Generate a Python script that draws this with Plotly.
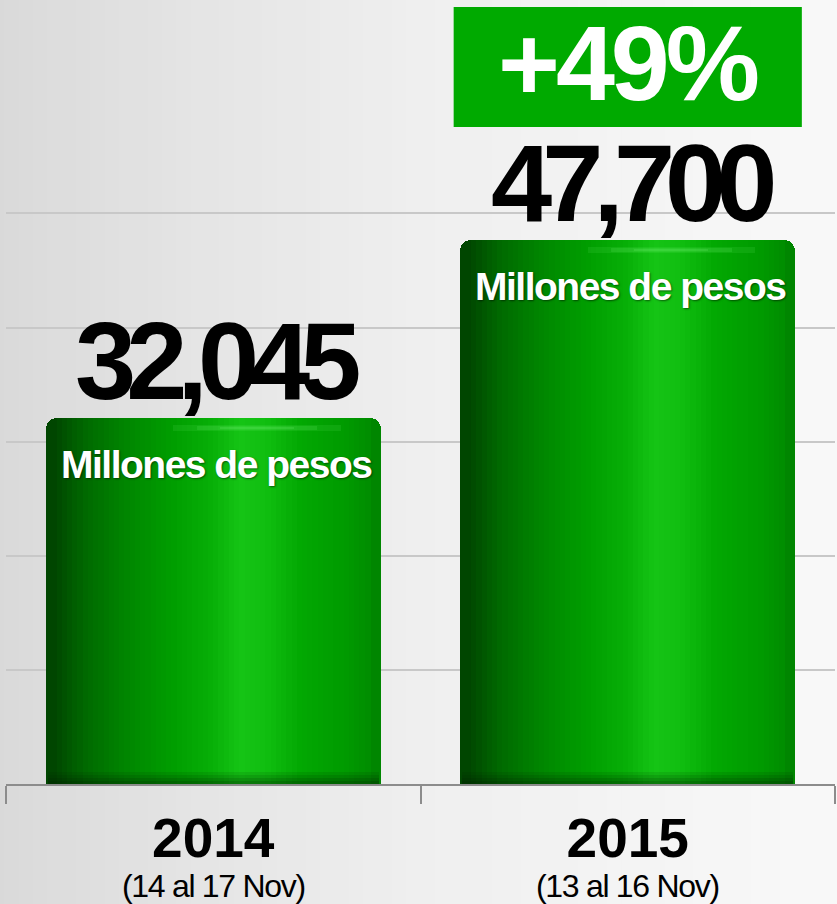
import plotly.graph_objects as go

# data
years = ["2014", "2015"]
periods = ["(14 al 17 Nov)", "(13 al 16 Nov)"]
amounts = [32045, 47700]
unit_label = "Millones de pesos"
growth_label = "+49%"
grid_values = [10000, 20000, 30000, 40000, 50000]

FONT = "Liberation Sans, Arial, sans-serif"
Y_MAX = 68700
PX = Y_MAX / 784  # value units per pixel in the plot area

# horizontal shading of the cylinder bars (position across bar, colour)
bar_stops = [
    (0.00, (0x00, 0x46, 0x00)),
    (0.04, (0x00, 0x4c, 0x00)),
    (0.12, (0x00, 0x6a, 0x00)),
    (0.25, (0x00, 0x88, 0x00)),
    (0.38, (0x00, 0x9e, 0x00)),
    (0.50, (0x08, 0xb0, 0x08)),
    (0.58, (0x15, 0xc4, 0x15)),
    (0.66, (0x10, 0xbe, 0x10)),
    (0.76, (0x02, 0xa8, 0x02)),
    (0.90, (0x00, 0x9a, 0x00)),
    (1.00, (0x00, 0x86, 0x00)),
]

def lerp_color(stops, t):
    for (t0, c0), (t1, c1) in zip(stops[:-1], stops[1:]):
        if t0 <= t <= t1:
            f = (t - t0) / (t1 - t0) if t1 > t0 else 0
            r, g, b = (round(a + (b_ - a) * f) for a, b_ in zip(c0, c1))
            return f"rgb({r},{g},{b})"
    r, g, b = stops[-1][1]
    return f"rgb({r},{g},{b})"

fig = go.Figure()

bar_w = 0.808
inset = 0.026
n_strips = 60

# rounded base bars: right half edge colour, left half dark edge colour
fig.add_trace(go.Bar(
    x=years, y=amounts, width=bar_w,
    marker=dict(color=lerp_color(bar_stops, 1.0), cornerradius=11, line=dict(width=0)),
    hoverinfo="skip", showlegend=False,
))
fig.add_trace(go.Bar(
    x=years, y=amounts, width=bar_w / 2, offset=-bar_w / 2,
    marker=dict(color=lerp_color(bar_stops, 0.0), cornerradius=11, line=dict(width=0)),
    hoverinfo="skip", showlegend=False,
))

# shading strips laid over the base bars
inner = bar_w - 2 * inset
sw = inner / n_strips
for i in range(n_strips):
    t = (inset + (i + 0.5) * sw) / bar_w
    fig.add_trace(go.Bar(
        x=years, y=amounts,
        width=sw * 1.2, offset=-bar_w / 2 + inset + i * sw,
        marker=dict(color=lerp_color(bar_stops, t), line=dict(width=0)),
        hoverinfo="skip", showlegend=False,
    ))

# darker rim at the bottom of each cylinder
for k, alpha in enumerate([0.10, 0.12, 0.14, 0.16]):
    fig.add_trace(go.Bar(
        x=years, y=[(12 - 3 * k) * PX] * len(years), base=[0] * len(years),
        width=bar_w - 0.01,
        marker=dict(color=f"rgba(0,30,0,{alpha})", line=dict(width=0)),
        hoverinfo="skip", showlegend=False,
    ))

# soft highlight near the top rim
for k, (frac, alpha) in enumerate([(0.50, 0.10), (0.36, 0.12), (0.22, 0.14)]):
    fig.add_trace(go.Bar(
        x=years, y=[(6 - 2 * k) * PX] * len(years),
        base=[v - (13 - k) * PX for v in amounts],
        width=bar_w * frac, offset=bar_w * (0.13 - frac / 2),
        marker=dict(color=f"rgba(140,255,140,{alpha})", line=dict(width=0)),
        hoverinfo="skip", showlegend=False,
    ))

# background gradient (left darker grey -> right near white)
bg_stops = [(0.0, (0xd9, 0xd9, 0xd9)), (0.25, (0xe5, 0xe5, 0xe5)),
            (0.5, (0xef, 0xef, 0xef)), (1.0, (0xf9, 0xf9, 0xf9))]
shapes = []
n_bg = 60
for i in range(n_bg):
    x0 = -0.02 + i * 1.04 / n_bg
    x1 = x0 + 1.04 / n_bg + 0.002
    shapes.append(dict(type="rect", xref="paper", yref="paper",
                       x0=x0, x1=x1, y0=-0.2, y1=1.01, layer="below",
                       line=dict(width=0),
                       fillcolor=lerp_color(bg_stops, (i + 0.5) / n_bg)))

# green growth box above the 2015 bar
shapes.append(dict(type="rect", xref="x", yref="paper",
                   x0=1 - 0.42, x1=1 + 0.42, y0=0.838, y1=0.991,
                   fillcolor="#00aa00", line=dict(width=0), layer="above"))

annotations = []
for i, (yr, v) in enumerate(zip(years, amounts)):
    annotations.append(dict(
        x=i, y=v, xref="x", yref="y", yanchor="bottom", yshift=-6, xshift=4,
        text=f"<span style='letter-spacing:-10px'>{v:,}</span>",
        showarrow=False,
        font=dict(family=FONT, size=110, color="#000000", weight="bold"),
    ))
    annotations.append(dict(
        x=i, y=v, xref="x", yref="y", yanchor="top", yshift=-23, xshift=3,
        text=f"<span style='letter-spacing:-1.5px'>{unit_label}</span>",
        showarrow=False,
        font=dict(family=FONT, size=39, color="#ffffff", weight="bold",
                  shadow="1px 1px 2px rgba(0,0,0,0.5)"),
    ))
    annotations.append(dict(
        x=i, y=-0.13, xref="x", yref="paper", yanchor="middle",
        text=f"<span style='letter-spacing:-1.3px'>{periods[i]}</span>",
        showarrow=False,
        font=dict(family=FONT, size=32, color="#000000"),
    ))

annotations.append(dict(
    x=1, y=0.914, xref="x", yref="paper", yanchor="middle", yshift=4,
    text=f"<span style='letter-spacing:-4px'>{growth_label}</span>",
    showarrow=False,
    font=dict(family=FONT, size=106, color="#ffffff", weight="bold"),
))

fig.update_layout(
    width=837, height=904,
    margin=dict(l=6, r=2, t=0, b=120),
    paper_bgcolor="#f2f2f2",
    plot_bgcolor="rgba(0,0,0,0)",
    barmode="overlay",
    bargap=0,
    shapes=shapes,
    annotations=annotations,
    showlegend=False,
    xaxis=dict(
        type="category", tickson="boundaries", range=[-0.5, 1.5],
        categoryorder="array", categoryarray=years,
        ticks="outside", ticklen=18, tickwidth=2, tickcolor="#8c8c8c",
        showline=True, linecolor="#8c8c8c", linewidth=2,
        showgrid=False,
        tickfont=dict(family=FONT, size=55, color="#000000", weight="bold"),
        tickangle=0, ticklabelstandoff=5,
    ),
    yaxis=dict(
        range=[0, Y_MAX], tickmode="array", tickvals=grid_values,
        showgrid=True, gridcolor="#c8c8c8", gridwidth=2,
        showticklabels=False, zeroline=False, ticks="",
    ),
)

fig.write_html("out.html", config={"displayModeBar": False},
               post_script="document.body.style.margin='0';")
